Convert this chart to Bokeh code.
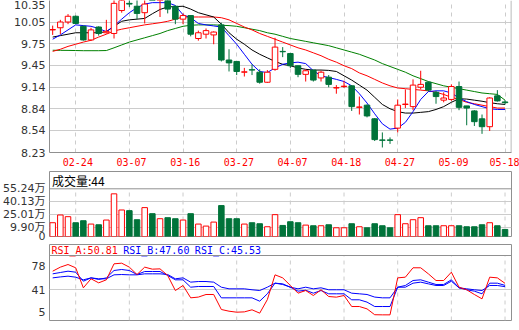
from bokeh.plotting import figure
from bokeh.layouts import column
from bokeh.models import Range1d, FixedTicker, Span, Label
from bokeh.embed import file_html
from bokeh.resources import INLINE

# ---------------- data ----------------
tick_idx = [3, 10, 17, 24, 31, 38, 45, 52, 59]
tick_labels = ["02-24", "03-07", "03-16", "03-27", "04-07", "04-18", "04-27", "05-09", "05-18"]

opens = [9.94, 9.97, 10.05, 10.13, 9.99, 9.80, 9.98, 9.90, 9.89, 10.21,
         10.31, 10.27, 10.18, 10.52, 10.38, 10.40, 10.27, 10.09, 10.14, 9.82,
         9.88, 9.87, 10.01, 9.52, 9.50, 9.35, 9.385, 9.35, 9.21, 9.39,
         9.64, 9.61, 9.44, 9.32, 9.38, 9.27, 9.28, 9.13, 9.15, 9.16,
         8.86, 8.89, 8.70, 8.405, 8.405, 8.57, 8.90, 8.87, 9.14, 9.21,
         9.07, 8.96, 8.97, 9.15, 8.88, 8.81, 8.70, 8.59, 9.02, 8.935]
highs = [10.00, 10.08, 10.16, 10.14, 10.00, 9.97, 9.99, 10.08, 10.36, 10.45,
         10.37, 10.38, 10.40, 10.56, 10.45, 10.45, 10.28, 10.17, 10.14, 9.93,
         9.96, 9.92, 10.04, 9.67, 9.50, 9.41, 9.46, 9.39, 9.38, 9.83,
         9.70, 9.62, 9.44, 9.39, 9.38, 9.37, 9.31, 9.17, 9.23, 9.17,
         9.01, 8.90, 8.71, 8.51, 8.44, 8.97, 9.11, 9.25, 9.37, 9.22,
         9.09, 9.07, 9.18, 9.22, 8.88, 8.82, 8.76, 9.00, 9.10, 8.96]
lows = [9.87, 9.88, 10.02, 10.02, 9.79, 9.79, 9.86, 9.89, 9.82, 10.18,
        10.26, 10.09, 10.03, 10.42, 10.12, 10.17, 10.02, 10.02, 9.85, 9.79,
        9.82, 9.74, 9.50, 9.36, 9.31, 9.29, 9.31, 9.19, 9.20, 9.37,
        9.56, 9.41, 9.28, 9.22, 9.22, 9.22, 9.14, 9.05, 9.13, 8.81,
        8.76, 8.72, 8.39, 8.30, 8.35, 8.51, 8.85, 8.82, 9.11, 9.08,
        8.91, 8.93, 8.95, 8.82, 8.61, 8.60, 8.49, 8.53, 8.94, 8.90]
closes = [9.945, 10.05, 10.13, 10.03, 9.80, 9.94, 9.89, 9.92, 10.31, 10.42,
          10.30, 10.17, 10.30, 10.45, 10.42, 10.23, 10.09, 10.14, 9.88, 9.90,
          9.93, 9.91, 9.52, 9.48, 9.36, 9.355, 9.38, 9.21, 9.35, 9.70,
          9.635, 9.44, 9.32, 9.37, 9.24, 9.35, 9.18, 9.135, 9.155, 8.87,
          8.865, 8.74, 8.41, 8.40, 8.40, 8.89, 8.905, 9.17, 9.18, 9.10,
          9.01, 8.99, 9.15, 8.86, 8.85, 8.66, 8.59, 8.99, 8.95, 8.925]

ma_blue = [9.81, 9.87, 9.94, 10.01, 10.00, 9.99, 9.96, 9.915, 9.995, 10.09,
           10.18, 10.25, 10.30, 10.32, 10.32, 10.32, 10.28, 10.15, 10.11, 10.03,
           10.01, 9.995, 9.98, 9.86, 9.74, 9.60, 9.46, 9.36, 9.345, 9.41,
           9.46, 9.48, 9.49, 9.47, 9.37, 9.30, 9.275, 9.25, 9.22, 9.16,
           9.05, 8.92, 8.77, 8.63, 8.556, 8.57, 8.65, 8.80, 8.97, 9.08,
           9.09, 9.09, 9.06, 8.99, 8.94, 8.90, 8.87, 8.84, 8.83, 8.83]
ma_black = [9.84, 9.86, 9.88, 9.90, 9.90, 9.90, 9.90, 9.915, 9.99, 10.06,
            10.08, 10.09, 10.10, 10.165, 10.225, 10.26, 10.265, 10.27, 10.23, 10.18,
            10.15, 10.12, 10.02, 9.90, 9.81, 9.74, 9.66, 9.60, 9.55, 9.50,
            9.46, 9.44, 9.41, 9.39, 9.38, 9.38, 9.375, 9.36, 9.30, 9.24,
            9.17, 9.10, 9.00, 8.90, 8.84, 8.80, 8.78, 8.78, 8.79, 8.80,
            8.83, 8.87, 8.93, 8.98, 8.975, 8.96, 8.945, 8.925, 8.91, 8.90]
ma_red = [9.64, 9.67, 9.71, 9.74, 9.77, 9.795, 9.84, 9.88, 9.925, 9.95,
          9.97, 9.99, 10.01, 10.025, 10.04, 10.06, 10.09, 10.12, 10.12, 10.12,
          10.12, 10.12, 10.11, 10.08, 10.03, 9.98, 9.94, 9.89, 9.85, 9.81,
          9.77, 9.73, 9.69, 9.66, 9.62, 9.58, 9.53, 9.49, 9.44, 9.40,
          9.34, 9.30, 9.25, 9.20, 9.16, 9.13, 9.12, 9.11, 9.10, 9.09,
          9.07, 9.04, 9.00, 8.97, 8.93, 8.91, 8.89, 8.87, 8.85, 8.85]
ma_green = [9.656, 9.655, 9.654, 9.652, 9.65, 9.65, 9.65, 9.652, 9.69, 9.73,
            9.77, 9.80, 9.83, 9.86, 9.89, 9.93, 9.96, 9.99, 10.005, 10.01,
            10.01, 10.01, 10.005, 10.0, 9.99, 9.97, 9.95, 9.93, 9.90, 9.88,
            9.85, 9.82, 9.80, 9.78, 9.76, 9.74, 9.72, 9.69, 9.66, 9.63,
            9.60, 9.56, 9.52, 9.47, 9.43, 9.39, 9.35, 9.30, 9.26, 9.22,
            9.19, 9.16, 9.14, 9.12, 9.10, 9.08, 9.06, 9.05, 9.04, 8.96]

volume = [15.95, 24.9, 22.95, 15.95, 18.28, 14.39, 13.6, 19.06, 49.4, 30.7,
          29.95, 19.45, 33.45, 26.45, 20.6, 21.8, 20.6, 19.06, 26.45, 14.39,
          12.06, 16.7, 35.8, 20.6, 20.6, 14.39, 15.95, 14.8, 11.3, 25.3,
          12.8, 17.1, 15.95, 13.2, 12.45, 12.45, 13.6, 10.1, 10.1, 14.8,
          11.3, 10.1, 14.8, 12.45, 10.1, 25.3, 14.8, 19.45, 21.8, 12.45,
          12.45, 12.45, 12.45, 12.45, 11.3, 11.3, 13.6, 15.95, 12.45, 8.17]

rsi_a = [70.1, 76.5, 80.7, 75.5, 43.7, 58.0, 51.6, 56.4, 81.8, 82.8,
         76.5, 64.8, 76.5, 73.3, 73.8, 63.3, 39.4, 47.4, 27.8, 29.0,
         33.1, 33.1, 9.3, 6.6, 5.0, 5.5, 8.8, 3.5, 25.0, 64.3,
         59.5, 47.4, 35.2, 39.4, 31.5, 40.6, 29.9, 28.9, 31.5, 14.0,
         14.0, 10.3, 1.0, 0.8, 0.8, 59.5, 60.6, 75.5, 75.5, 65.9,
         55.3, 55.3, 68.5, 44.7, 40.6, 33.1, 26.2, 60.6, 59.5, 50.81]
rsi_b = [65.9, 68.0, 70.1, 68.5, 54.2, 59.5, 57.0, 59.5, 71.2, 72.8,
         71.2, 64.8, 69.6, 69.6, 69.6, 63.3, 56.4, 56.4, 44.7, 45.8,
         45.8, 45.8, 27.8, 27.8, 27.8, 27.8, 27.8, 22.5, 34.2, 51.1,
         50.0, 44.7, 38.4, 39.9, 35.2, 39.4, 34.2, 34.2, 34.2, 24.7,
         24.7, 21.0, 14.0, 14.0, 14.0, 44.7, 47.4, 55.3, 56.4, 52.7,
         49.0, 49.0, 56.4, 43.7, 40.6, 38.4, 34.2, 51.1, 51.1, 47.60]
rsi_c = [59.5, 61.0, 62.2, 60.6, 56.4, 59.5, 58.0, 58.0, 64.3, 64.8,
         64.3, 64.3, 65.9, 65.9, 65.9, 64.8, 58.0, 59.5, 52.7, 53.7,
         53.7, 52.7, 44.7, 42.1, 42.1, 42.1, 40.6, 39.4, 44.7, 51.1,
         49.0, 44.7, 42.1, 44.7, 42.1, 43.7, 40.6, 40.6, 40.6, 35.2,
         34.2, 33.1, 29.0, 27.8, 27.8, 44.7, 44.7, 51.1, 52.7, 50.0,
         47.4, 47.4, 54.2, 43.7, 42.1, 40.6, 39.4, 47.4, 47.4, 45.53]

price_ticks = [8.23, 8.54, 8.84, 9.14, 9.45, 9.75, 10.05, 10.35]
vol_ticks = [0, 9.90, 25.01, 40.13, 55.24]
vol_tick_labels = ["0", "9.90万", "25.01万", "40.13万", "55.24万"]
rsi_ticks = [5, 41, 78]
vol_title = "成交量:44"
rsi_titles = ["RSI_A:50.81", "RSI_B:47.60", "RSI_C:45.53"]

# ---------------- style ----------------
RED = "#ff0000"
GREEN = "#00733a"
FRAME = "#909090"
GRID = "#cccccc"
LABEL = "#333333"
NUMFONT = "DejaVu Sans, Noto Sans CJK SC"
MONO = "DejaVu Sans Mono"

W = 519
LEFT, RIGHT = 47, 8
STEP = 7.7                     # pixels per candle
x0 = -(50.2 - LEFT) / STEP
x1 = x0 + (W - LEFT - RIGHT) / STEP
xr = Range1d(x0, x1)
LABEL_SHIFT = 2.2 / STEP       # date labels sit slightly right of their grid line

idx = list(range(len(closes)))
up = [c >= o for o, c in zip(opens, closes)]
col = [RED if u else GREEN for u in up]
fill = ["white" if u else GREEN for u in up]
top = [max(o, c) for o, c in zip(opens, closes)]
bot = [min(o, c) for o, c in zip(opens, closes)]


def base(height, yr, bottom):
    p = figure(width=W, height=height, x_range=xr, y_range=yr,
               output_backend="svg", toolbar_location=None,
               min_border_left=LEFT, min_border_right=RIGHT,
               min_border_top=0, min_border_bottom=bottom)
    p.background_fill_color = "white"
    p.border_fill_color = "white"
    ax = p.yaxis[0]
    ax.major_tick_line_color = None
    ax.minor_tick_line_color = None
    ax.major_tick_out = 0
    ax.major_tick_in = 0
    ax.major_label_standoff = 4
    ax.major_label_text_font = NUMFONT
    ax.major_label_text_font_size = "11px"
    ax.major_label_text_color = LABEL
    return p


# ---------------- price panel ----------------
p1 = base(171, Range1d(8.23, 10.35), 19)
p1.outline_line_color = None
p1.yaxis.axis_line_color = FRAME
p1.yaxis.ticker = FixedTicker(ticks=price_ticks)
p1.yaxis.major_label_overrides = {t: f"{t:.2f}" for t in price_ticks}
xa = p1.xaxis[0]
lab_pos = [t + LABEL_SHIFT for t in tick_idx]
xa.ticker = FixedTicker(ticks=lab_pos)
xa.major_label_overrides = {t: l for t, l in zip(lab_pos, tick_labels)}
xa.axis_line_color = FRAME
xa.major_tick_line_color = None
xa.minor_tick_line_color = None
xa.major_tick_out = 0
xa.major_tick_in = 0
xa.major_label_standoff = 5
xa.major_label_text_font = MONO
xa.major_label_text_font_size = "10px"
xa.major_label_text_color = RED
p1.ygrid.ticker = FixedTicker(ticks=price_ticks[1:])
p1.ygrid.grid_line_color = GRID
p1.xgrid.ticker = FixedTicker(ticks=tick_idx)
p1.xgrid.grid_line_color = GRID
p1.xgrid.grid_line_dash = "4 4"
p1.add_layout(Span(location=x1 - 0.03, dimension="height", line_color=FRAME, line_width=1))

p1.line(idx, ma_green, line_color="#008000", line_width=1)
p1.line(idx, ma_red, line_color=RED, line_width=1)
p1.line(idx, ma_black, line_color="black", line_width=1)
p1.line(idx, ma_blue, line_color="#0000ff", line_width=1)
p1.segment(x0=idx, y0=lows, x1=idx, y1=highs, line_color=col, line_width=1)
p1.vbar(x=idx, width=0.72, top=top, bottom=bot, fill_color=fill, line_color=col, line_width=1)

# ---------------- volume panel ----------------
vol_top = 55.24
vol_end = vol_top * 65 / 47.7
p2 = base(73, Range1d(0, vol_end), 8)
p2.outline_line_color = FRAME
p2.xaxis.visible = False
p2.xgrid.visible = False
p2.yaxis.axis_line_color = None
p2.yaxis.ticker = FixedTicker(ticks=vol_ticks)
p2.yaxis.major_label_overrides = {t: l for t, l in zip(vol_ticks, vol_tick_labels)}
p2.ygrid.ticker = FixedTicker(ticks=vol_ticks[1:-1])
p2.ygrid.grid_line_color = GRID
p2.segment(x0=tick_idx, y0=[0] * len(tick_idx), x1=tick_idx, y1=[vol_top] * len(tick_idx),
           line_color=GRID, line_dash="4 4", line_width=1)
p2.add_layout(Span(location=vol_top, dimension="width", line_color=FRAME, line_width=1))
p2.vbar(x=idx, width=0.72, top=volume, bottom=0, fill_color=fill, line_color=col, line_width=1)
p2.add_layout(Label(x=x0 + 2.5 / STEP, y=(vol_top + vol_end) / 2, text=vol_title,
                    text_font="Noto Sans CJK SC", text_font_size="12px",
                    text_baseline="middle", text_align="left", text_color="black"))

# ---------------- RSI panel ----------------
r_lo = 5 - (320 - 311.7) / 0.63
r_hi = r_lo + 76 / 0.63
r_box = r_lo + 65 / 0.63
p3 = base(86, Range1d(r_lo, r_hi), 10)
p3.outline_line_color = FRAME
p3.xaxis.visible = False
p3.xgrid.visible = False
p3.yaxis.axis_line_color = None
p3.yaxis.ticker = FixedTicker(ticks=rsi_ticks)
p3.yaxis.major_label_overrides = {t: str(t) for t in rsi_ticks}
p3.ygrid.ticker = FixedTicker(ticks=[41])
p3.ygrid.grid_line_color = GRID
p3.segment(x0=tick_idx, y0=[r_lo] * len(tick_idx), x1=tick_idx, y1=[r_box] * len(tick_idx),
           line_color=GRID, line_dash="4 4", line_width=1)
p3.add_layout(Span(location=r_box, dimension="width", line_color=FRAME, line_width=1))
p3.line(idx, rsi_c, line_color="#0000ff", line_width=1)
p3.line(idx, rsi_b, line_color="#0000ff", line_width=1)
p3.line(idx, rsi_a, line_color=RED, line_width=1)
for txt, px, c in zip(rsi_titles, [49, 121, 193], [RED, "#0000ff", "#0000ff"]):
    p3.add_layout(Label(x=x0 + (px - LEFT) / STEP, y=(r_box + r_hi) / 2, text=txt,
                        text_font=MONO, text_font_size="10px",
                        text_baseline="middle", text_align="left", text_color=c))

layout = column(p1, p2, p3, spacing=0)
open("out.html", "w").write(file_html(layout, INLINE))
